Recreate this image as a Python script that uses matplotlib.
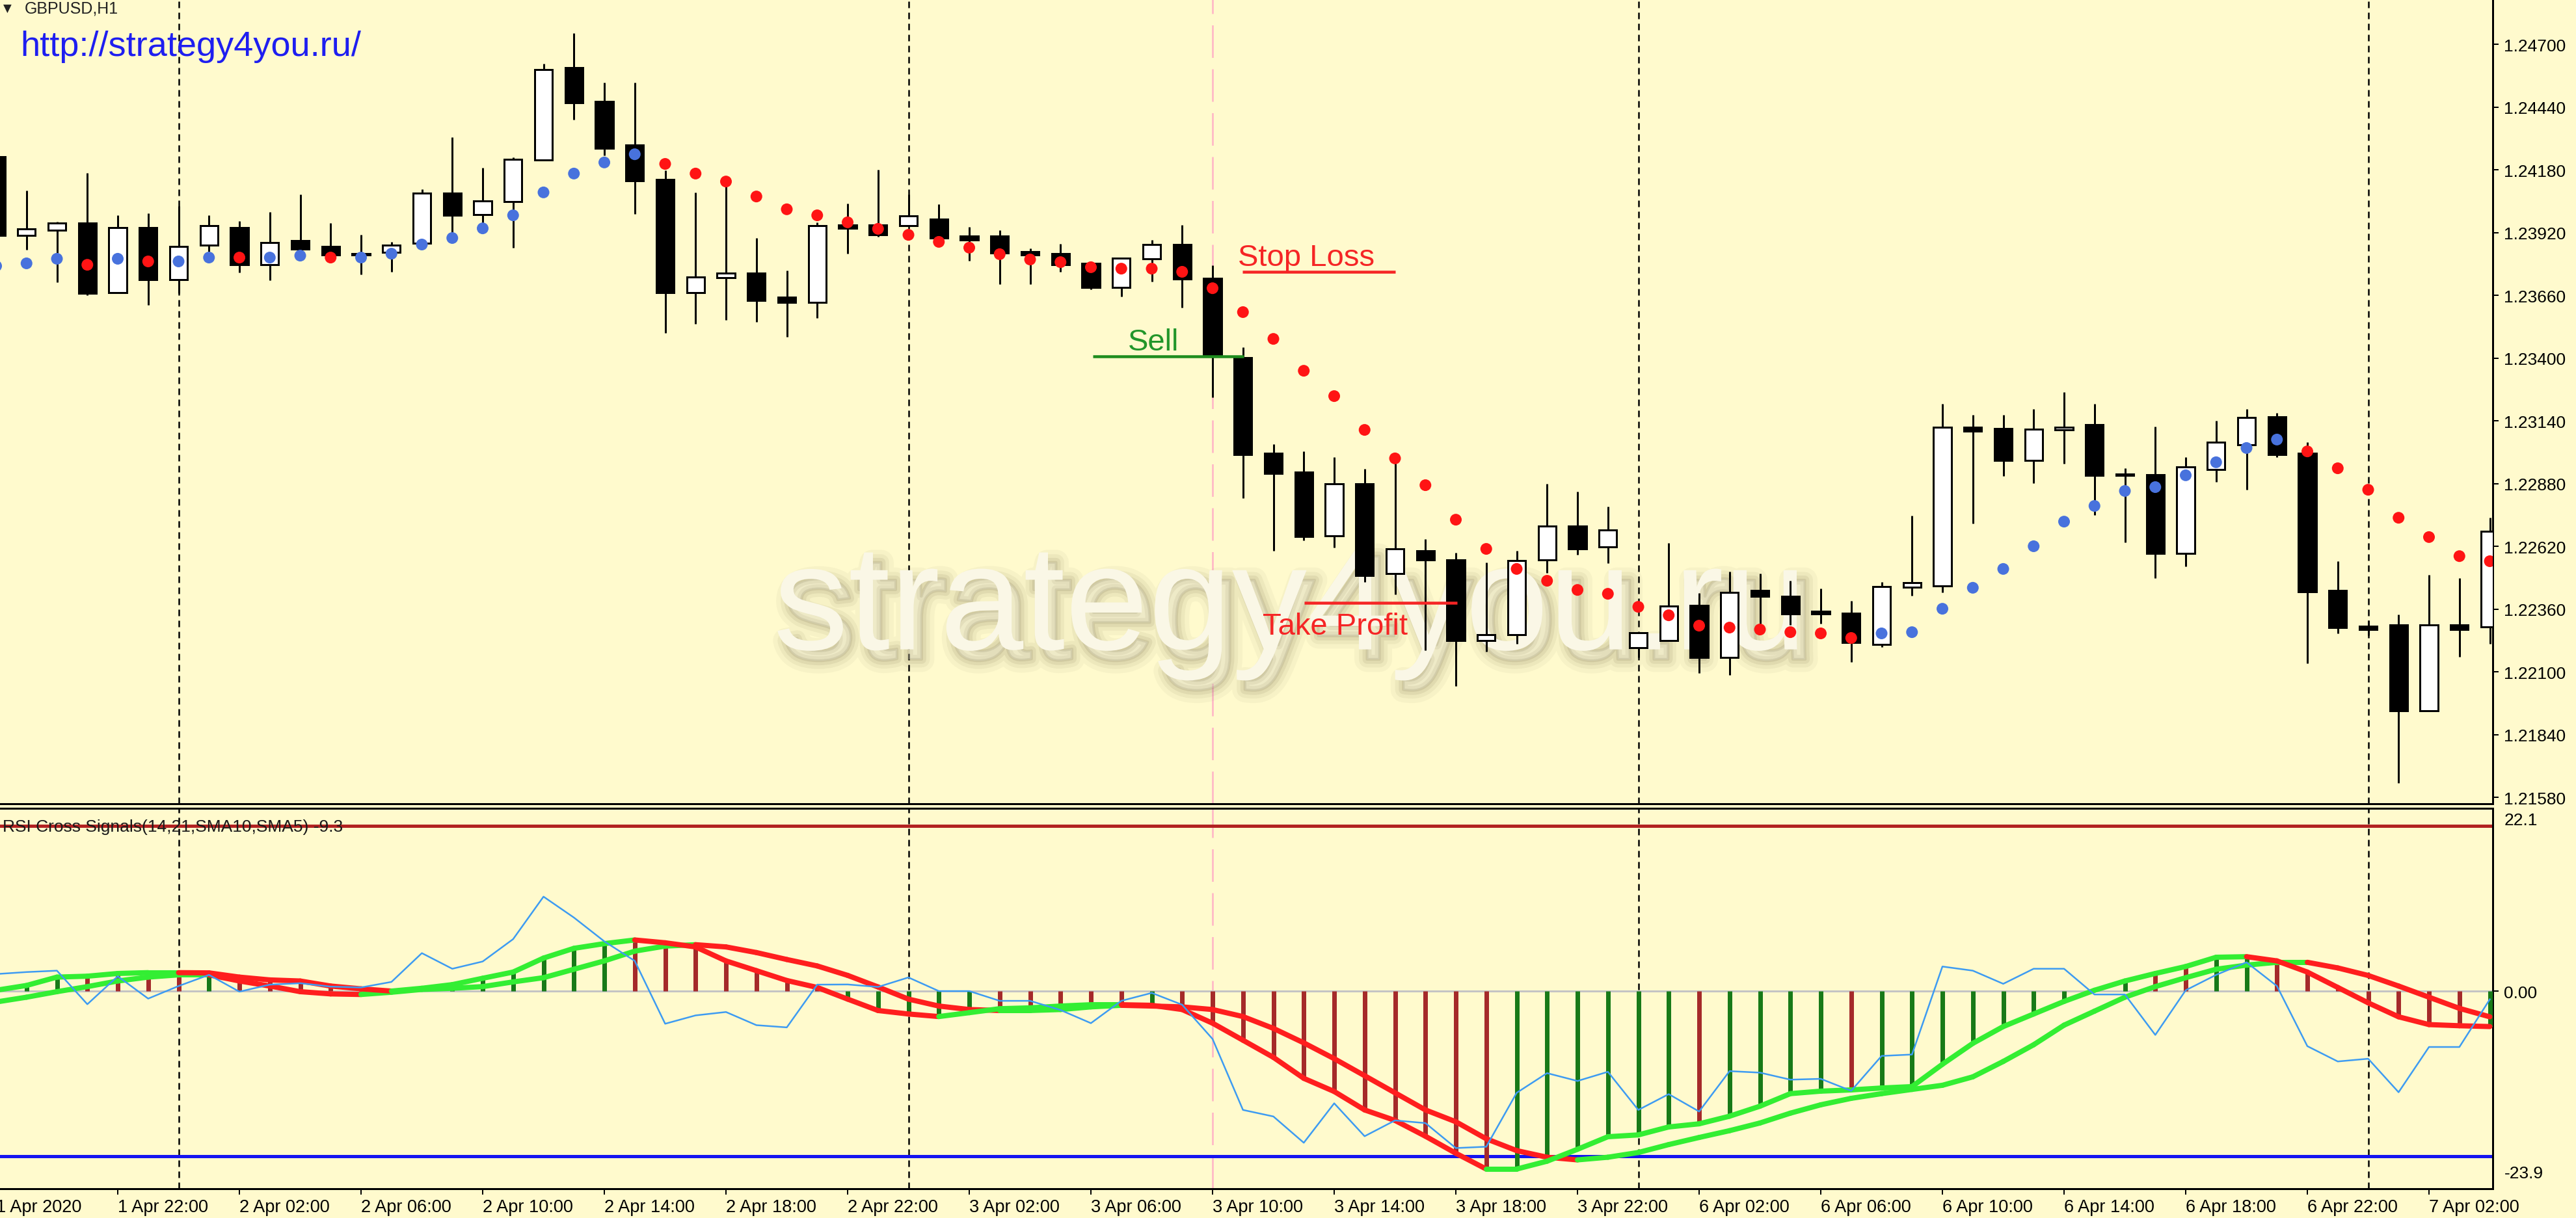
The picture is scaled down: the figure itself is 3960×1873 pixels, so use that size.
import matplotlib
matplotlib.use('Agg')
import matplotlib.pyplot as plt
import matplotlib.patheffects as pe
from matplotlib.collections import LineCollection
import numpy as np

plt.rcParams['font.family'] = ['Liberation Sans', 'DejaVu Sans']

# ---------------- data (GBPUSD H1, 1 Apr 18:00 .. 7 Apr 04:00) ----------------
opens = [1.24235, 1.23909, 1.23930, 1.23960, 1.23672, 1.23941, 1.23726, 1.23868, 1.23941, 1.23787,
         1.23887, 1.23863, 1.23833, 1.23839, 1.23876, 1.24084, 1.23995, 1.24049, 1.24221, 1.24604,
         1.24464, 1.24283, 1.24140, 1.23672, 1.23734, 1.23752, 1.23653, 1.23631, 1.23952, 1.23952,
         1.23949, 1.23976, 1.23906, 1.23906, 1.23841, 1.23833, 1.23793, 1.23693, 1.23812, 1.23871,
         1.23731, 1.23402, 1.23006, 1.22928, 1.22664, 1.22880, 1.22508, 1.22602, 1.22564, 1.22230,
         1.22255, 1.22564, 1.22704, 1.22618, 1.22201, 1.22230, 1.22376, 1.22160, 1.22438, 1.22414,
         1.22352, 1.22344, 1.22214, 1.22451, 1.22457, 1.23114, 1.23109, 1.22977, 1.23103, 1.23125,
         1.22920, 1.22917, 1.22591, 1.22939, 1.23041, 1.23157, 1.23006, 1.22438, 1.22290, 1.22295,
         1.21939, 1.22295, 1.22287]
highs = [1.24254, 1.24095, 1.23965, 1.24167, 1.23992, 1.24000, 1.24030, 1.23992, 1.23968, 1.24006,
         1.24079, 1.23960, 1.23911, 1.23882, 1.24100, 1.24316, 1.24189, 1.24232, 1.24620, 1.24747,
         1.24542, 1.24542, 1.24178, 1.24087, 1.24114, 1.23898, 1.23763, 1.23963, 1.24041, 1.24181,
         1.24079, 1.24038, 1.23944, 1.23930, 1.23855, 1.23874, 1.23793, 1.23814, 1.23890, 1.23952,
         1.23785, 1.23445, 1.23044, 1.23014, 1.22990, 1.22942, 1.22969, 1.22651, 1.22594, 1.22554,
         1.22602, 1.22880, 1.22847, 1.22785, 1.22263, 1.22634, 1.22427, 1.22516, 1.22508, 1.22478,
         1.22446, 1.22395, 1.22473, 1.22748, 1.23211, 1.23165, 1.23165, 1.23189, 1.23260, 1.23211,
         1.22944, 1.23117, 1.22990, 1.23141, 1.23189, 1.23173, 1.23052, 1.22559, 1.22314, 1.22338,
         1.22502, 1.22489, 1.22739]
lows = [1.23890, 1.23850, 1.23715, 1.23661, 1.23672, 1.23620, 1.23669, 1.23841, 1.23755, 1.23723,
        1.23852, 1.23828, 1.23747, 1.23758, 1.23876, 1.23895, 1.23936, 1.23858, 1.24221, 1.24388,
        1.24240, 1.23998, 1.23505, 1.23542, 1.23559, 1.23550, 1.23489, 1.23567, 1.23833, 1.23903,
        1.23949, 1.23898, 1.23804, 1.23707, 1.23707, 1.23758, 1.23685, 1.23656, 1.23718, 1.23610,
        1.23238, 1.22820, 1.22602, 1.22645, 1.22616, 1.22473, 1.22422, 1.22190, 1.22042, 1.22185,
        1.22217, 1.22511, 1.22586, 1.22551, 1.22160, 1.22230, 1.22096, 1.22087, 1.22295, 1.22295,
        1.22300, 1.22141, 1.22203, 1.22416, 1.22430, 1.22715, 1.22912, 1.22882, 1.22963, 1.22750,
        1.22637, 1.22489, 1.22537, 1.22888, 1.22855, 1.22990, 1.22136, 1.22260, 1.22252, 1.21640,
        1.21939, 1.22163, 1.22217]
closes = [1.23909, 1.23936, 1.23960, 1.23669, 1.23941, 1.23726, 1.23863, 1.23949, 1.23787, 1.23879,
          1.23852, 1.23828, 1.23828, 1.23868, 1.24084, 1.23992, 1.24052, 1.24224, 1.24596, 1.24458,
          1.24270, 1.24135, 1.23672, 1.23736, 1.23752, 1.23639, 1.23631, 1.23949, 1.23938, 1.23911,
          1.23990, 1.23898, 1.23890, 1.23836, 1.23828, 1.23787, 1.23693, 1.23814, 1.23871, 1.23728,
          1.23410, 1.23001, 1.22923, 1.22661, 1.22880, 1.22500, 1.22610, 1.22564, 1.22230, 1.22255,
          1.22562, 1.22704, 1.22610, 1.22688, 1.22263, 1.22373, 1.22160, 1.22430, 1.22414, 1.22341,
          1.22341, 1.22222, 1.22454, 1.22470, 1.23114, 1.23098, 1.22977, 1.23106, 1.23114, 1.22915,
          1.22915, 1.22591, 1.22950, 1.23052, 1.23154, 1.23001, 1.22432, 1.22284, 1.22276, 1.21939,
          1.22295, 1.22276, 1.22683]

# parabolic SAR dots and their side (1 = below price / blue, 0 = above / red)
sar = [1.23782, 1.23793, 1.23812, 1.23787, 1.23812, 1.23801, 1.23801, 1.23817, 1.23817, 1.23817,
       1.23825, 1.23817, 1.23817, 1.23833, 1.23871, 1.23898, 1.23938, 1.23992, 1.24087, 1.24165,
       1.24211, 1.24245, 1.24205, 1.24165, 1.24132, 1.24070, 1.24017, 1.23992, 1.23963, 1.23936,
       1.23911, 1.23882, 1.23858, 1.23831, 1.23809, 1.23798, 1.23777, 1.23771, 1.23771, 1.23758,
       1.23690, 1.23591, 1.23480, 1.23348, 1.23243, 1.23103, 1.22985, 1.22874, 1.22731, 1.22610,
       1.22527, 1.22478, 1.22440, 1.22424, 1.22370, 1.22335, 1.22292, 1.22284, 1.22276, 1.22265,
       1.22260, 1.22241, 1.22260, 1.22265, 1.22362, 1.22449, 1.22527, 1.22621, 1.22723, 1.22788,
       1.22850, 1.22866, 1.22915, 1.22969, 1.23028, 1.23063, 1.23014, 1.22944, 1.22855, 1.22739,
       1.22659, 1.22580, 1.22559]
sar_up = [1, 1, 1, 0, 1, 0, 1, 1, 0, 1, 1, 0, 1, 1, 1, 1, 1, 1, 1, 1,
          1, 1, 0, 0, 0, 0, 0, 0, 0, 0, 0, 0, 0, 0, 0, 0, 0, 0, 0, 0,
          0, 0, 0, 0, 0, 0, 0, 0, 0, 0, 0, 0, 0, 0, 0, 0, 0, 0, 0, 0,
          0, 0, 1, 1, 1, 1, 1, 1, 1, 1, 1, 1, 1, 1, 1, 1, 0, 0, 0, 0,
          0, 0, 0]

# RSI Cross Signals(14,21,SMA10,SMA5)
rsi_fast = [0.10, 0.68, 1.69, 1.80, 2.13, 2.23, 2.23, 2.20, 1.69, 1.35,
            1.22, 0.61, 0.27, 0.00, 0.34, 0.78, 1.55, 2.30, 3.99, 5.17,
            5.74, 6.18, 5.84, 5.34, 3.65, 2.47, 1.28, 0.44, -0.97, -2.35,
            -2.77, -3.08, -2.61, -2.13, -2.03, -1.81, -1.65, -1.65, -1.72, -2.23,
            -3.88, -5.94, -8.01, -10.55, -12.14, -14.37, -15.64, -17.55, -19.61, -21.52,
            -21.52, -20.57, -19.13, -17.61, -17.39, -16.43, -16.05, -15.13, -13.92, -12.40,
            -12.10, -11.95, -11.72, -11.55, -8.85, -6.32, -4.29, -2.77, -1.25, 0.10,
            1.22, 2.13, 2.97, 4.09, 4.16, 3.65, 2.30, 0.44, -1.42, -3.11,
            -4.05, -4.19, -4.29]
rsi_slow = [-1.32, -0.74, -0.07, 0.54, 1.22, 1.69, 1.96, 1.96, 1.22, 0.61,
            -0.07, -0.34, -0.41, -0.14, 0.20, 0.34, 0.54, 1.11, 1.62, 2.64,
            3.65, 4.83, 5.44, 5.61, 5.34, 4.66, 3.82, 3.04, 1.90, 0.50,
            -0.97, -1.81, -2.23, -2.35, -2.35, -2.23, -1.91, -1.72, -1.81, -1.91,
            -2.23, -3.08, -4.51, -6.26, -8.17, -10.23, -12.30, -14.37, -15.80, -17.86,
            -19.29, -20.09, -20.41, -20.09, -19.52, -18.56, -17.70, -16.88, -15.95, -14.76,
            -13.75, -12.97, -12.40, -11.89, -11.39, -10.37, -8.51, -6.49, -4.12, -2.43,
            -0.74, 0.54, 1.62, 2.64, 3.14, 3.48, 3.48, 2.80, 1.89, 0.61,
            -0.74, -2.09, -3.11]
rsi_diff = [2.06, 2.30, 2.47, -1.59, 1.79, -0.91, 0.61, 1.96, -0.07, 0.78,
            0.95, 0.54, 0.44, 1.11, 4.59, 2.70, 3.58, 6.28, 11.42, 8.89,
            6.01, 3.65, -3.95, -2.94, -2.53, -4.12, -4.39, 0.78, 0.80, 0.50,
            1.65, 0.00, 0.00, -1.18, -1.18, -2.29, -3.88, -1.18, -0.22, -1.65,
            -5.79, -14.37, -15.16, -18.34, -13.57, -17.55, -15.64, -15.96, -18.98, -18.82,
            -12.30, -9.92, -10.87, -9.76, -14.37, -12.46, -14.56, -9.68, -9.86, -10.71,
            -10.61, -12.06, -7.84, -7.67, 2.97, 2.47, 0.88, 2.70, 2.70, -0.41,
            -0.41, -5.30, 0.10, 1.96, 3.48, 0.61, -6.66, -8.51, -8.18, -12.23,
            -6.76, -6.76, -1.00]
hist_up = [1, 1, 1, 0, 0, 0, 0, 1, 0, 0, 0, 0, 0, 1, 1, 1, 1, 1, 1, 1,
           1, 0, 0, 0, 0, 0, 0, 0, 1, 1, 1, 1, 1, 0, 0, 0, 0, 0, 1, 0,
           0, 0, 0, 0, 0, 0, 0, 0, 0, 0, 1, 1, 1, 1, 1, 1, 0, 1, 1, 1,
           1, 0, 1, 1, 1, 1, 1, 1, 1, 1, 1, 0, 0, 1, 1, 0, 0, 0, 0, 0,
           0, 0, 1]
level_hi, level_lo = 20, -20

time_labels = ['1 Apr 2020', '1 Apr 22:00', '2 Apr 02:00', '2 Apr 06:00', '2 Apr 10:00',
               '2 Apr 14:00', '2 Apr 18:00', '2 Apr 22:00', '3 Apr 02:00', '3 Apr 06:00',
               '3 Apr 10:00', '3 Apr 14:00', '3 Apr 18:00', '3 Apr 22:00', '6 Apr 02:00',
               '6 Apr 06:00', '6 Apr 10:00', '6 Apr 14:00', '6 Apr 18:00', '6 Apr 22:00',
               '7 Apr 02:00']
day_starts = [6, 30, 54, 78]
signal_bar = 40
stop_loss, entry, take_profit = 1.23758, 1.23408, 1.22387
price_ticks = [round(1.21580 + 0.0026 * k, 5) for k in range(13)]

# ---------------- figure ----------------
W, H, DPI = 3960, 1874, 100
BG = '#FFFACD'


def px(v):
    '''pixels -> points'''
    return v * 72.0 / DPI


fig = plt.figure(figsize=(W / DPI, H / DPI), dpi=DPI, facecolor=BG)
ax = fig.add_axes([0, 1 - 1237 / H, 3832 / W, 1237 / H], facecolor=BG)
ax2 = fig.add_axes([0, 1 - 1829 / H, 3832 / W, (1829 - 1244) / H], facecolor=BG)

x = np.arange(len(opens))
xlim = (0.128, 82.096)
o = np.array(opens)
c = np.array(closes)

# main chart
ax.set_xlim(*xlim)
ax.set_ylim(1.215541, 1.248867)
for d in day_starts:
    ax.axvline(d, color='black', lw=px(2.5), ls=(0, (4, 2.8)), zorder=1)
    ax2.axvline(d, color='black', lw=px(2.5), ls=(0, (4, 2.8)), zorder=1)
ax.axvline(signal_bar, color='#FFB3C6', lw=px(2.5), ls=(0, (20, 7)), zorder=1)
ax2.axvline(signal_bar, color='#FFB3C6', lw=px(2.5), ls=(0, (20, 7)), zorder=1)

# watermark with a soft shadow
shadow = [pe.Stroke(offset=(9, -11), linewidth=w, foreground='#6f6645', alpha=a)
          for w, a in ((28, 0.05), (18, 0.07), (10, 0.10), (3, 0.14))]
ax.text(42.55, 1.22354, 'strategy4you.ru', ha='center', va='center', fontsize=166,
        color='#FAF7E6', zorder=2, path_effects=shadow + [pe.Normal()])

ax.vlines(x, lows, highs, color='black', lw=px(3), zorder=3)
ax.bar(x, np.abs(c - o), width=0.58, bottom=np.minimum(o, c),
       color=np.where(c >= o, 'white', 'black'), edgecolor='black',
       linewidth=px(3), zorder=4)
up = np.array(sar_up) == 1
ax.scatter(x, sar, s=px(18) ** 2, c=np.where(up, '#4872DD', '#FF1414'),
           linewidths=0, zorder=5)

red = '#F52525'
ax.hlines(stop_loss, 40.98, 46.01, color=red, lw=px(4.5), zorder=6)
ax.text(40.83, stop_loss + 10 / 37118, 'Stop Loss', color=red, fontsize=34,
        va='baseline', zorder=6)
ax.hlines(entry, 36.06, 41.03, color='#1E8C1E', lw=px(4.5), zorder=6)
ax.text(37.22, entry + 10 / 37118, 'Sell', color='#22962A', fontsize=34,
        va='baseline', zorder=6)
ax.hlines(take_profit, 43.02, 48.04, color=red, lw=px(4.5), zorder=6)
ax.text(41.65, take_profit - 48 / 37118, 'Take Profit', color=red, fontsize=34,
        va='baseline', zorder=6)

ax.set_xticks([])
ax.yaxis.tick_right()
ax.set_yticks(price_ticks)
ax.set_yticklabels(['%.5f' % p for p in price_ticks])
ax.tick_params(axis='y', direction='out', length=px(9), width=px(2), pad=px(8),
               labelsize=19, colors='black')
for s in ('top', 'left'):
    ax.spines[s].set_visible(False)
for s in ('right', 'bottom'):
    ax.spines[s].set_linewidth(px(3))

# indicator window
ax2.set_xlim(*xlim)
ax2.set_ylim(-23.9, 22.1)
ax2.axhline(level_hi, color='#B22222', lw=px(5), zorder=2)
ax2.axhline(level_lo, color='#1414F0', lw=px(5), zorder=2)
ax2.axhline(0, color='#C4C4C4', lw=px(3), zorder=2)
ax2.vlines(x, 0, rsi_fast, colors=np.where(np.array(hist_up) == 1, '#187A18', '#A52A2A'),
           lw=px(7), zorder=3)


def trend_line(values):
    '''thick line, green where rising and red where falling'''
    v = np.array(values)
    segs = [[(i, v[i]), (i + 1, v[i + 1])] for i in range(len(v) - 1)]
    cols = ['#33EE33' if v[i + 1] >= v[i] else '#FF1E1E' for i in range(len(v) - 1)]
    return LineCollection(segs, colors=cols, linewidths=px(8), capstyle='round', zorder=4)


ax2.add_collection(trend_line(rsi_slow))
ax2.add_collection(trend_line(rsi_fast))
ax2.plot(x, rsi_diff, color='#3D9BF2', lw=px(2.5), zorder=5)

ax2.yaxis.tick_right()
ax2.set_yticks([0])
ax2.set_yticklabels(['0.00'])
ax2.tick_params(axis='y', direction='out', length=px(9), width=px(2), pad=px(8), labelsize=19)
ax2.set_xticks(range(4, 81, 4))
ax2.set_xticklabels(time_labels[1:])
for lab in ax2.get_xticklabels():
    lab.set_horizontalalignment('left')
ax2.tick_params(axis='x', direction='out', length=px(9), width=px(2), pad=px(6), labelsize=19.5)
ax2.spines['left'].set_visible(False)
for s in ('right', 'bottom', 'top'):
    ax2.spines[s].set_linewidth(px(3))

fig.text(-6 / W, 1 - 1844 / H, time_labels[0], fontsize=19.5, va='top', ha='left')
fig.text(3850 / W, 1 - 1262 / H, '22.1', fontsize=19, va='center')
fig.text(3850 / W, 1 - 1805 / H, '-23.9', fontsize=19, va='center')
fig.text(4 / W, 1 - 1272 / H, 'RSI Cross Signals(14,21,SMA10,SMA5) -9.3', fontsize=19,
         va='center', color='#1a1a1a')

fig.text(5 / W, 1 - 14 / H, '\u25BC', fontsize=12, va='center', family='DejaVu Sans',
         color='#222222')
fig.text(38 / W, 1 - 14 / H, 'GBPUSD,H1', fontsize=18, va='center', color='#222222')
fig.text(31 / W, 1 - 86 / H, 'http://strategy4you.ru/', fontsize=39, va='baseline',
         color='#1E1EF0')

fig.savefig('out.png', dpi=DPI, facecolor=BG)
